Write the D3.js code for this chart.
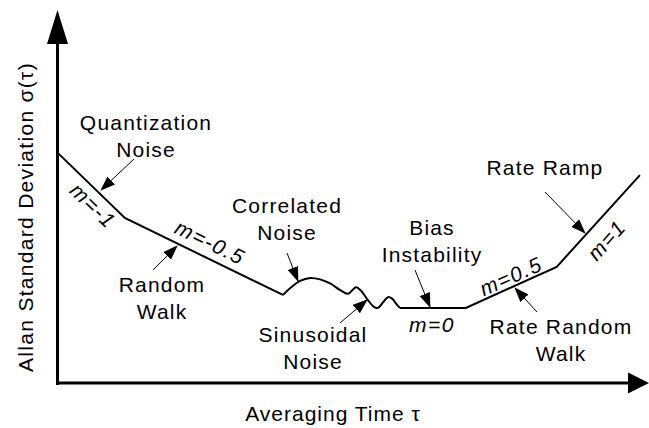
<!DOCTYPE html>
<html>
<head>
<meta charset="utf-8">
<script src="https://cdn.jsdelivr.net/npm/d3@7"></script>
<style>
  html, body { margin: 0; padding: 0; background: #fff; }
  svg text { font-family: Arial, "Liberation Sans", Helvetica, sans-serif; fill: #000; }
</style>
</head>
<body>
<svg id="chart" width="649" height="428"></svg>
<script>
// ---- data (schematic Allan deviation curve, arbitrary log units) ----
// straight part: quantization (m=-1) then random walk (m=-0.5)
const leftTau   = [0.0, 11.5, 38.3];
const leftSigma = [62.4, 44.6, 23.8];
// correlated hump + sinusoidal wiggles
const waveTau   = [38.3, 39.5, 41.2, 42.9, 44.6, 46.3, 48.0, 49.3, 50.0, 50.7, 51.5, 52.7, 53.7, 54.4, 55.3, 56.1, 56.8, 57.5, 58.1];
const waveSigma = [23.8, 25.6, 27.6, 28.4, 28.0, 26.9, 25.1, 24.1, 25.0, 25.9, 25.0, 22.4, 20.6, 20.3, 21.9, 23.2, 22.8, 21.4, 20.3];
// bias instability (m=0), rate random walk (m=0.5), rate ramp (m=1)
const rightTau   = [58.1, 69.3, 84.7, 98.8];
const rightSigma = [20.3, 20.3, 31.4, 56.2];

const xTitle = "Averaging Time \u03C4";
const yTitle = "Allan Standard Deviation \u03C3(\u03C4)";

// annotation labels: lines of text
const noiseLabels = [
  {lines: ["Quantization", "Noise"], x: 146, y: 130},
  {lines: ["Random", "Walk"], x: 162, y: 292},
  {lines: ["Correlated", "Noise"], x: 287, y: 213},
  {lines: ["Sinusoidal", "Noise"], x: 313, y: 342},
  {lines: ["Bias", "Instability"], x: 432, y: 235},
  {lines: ["Rate Random", "Walk"], x: 561, y: 334},
  {lines: ["Rate Ramp"], x: 545, y: 175}
];
const slopeLabels = [
  {text: "m=-1", x: 88, y: 211, rot: 44},
  {text: "m=-0.5", x: 207, y: 249, rot: 26},
  {text: "m=0", x: 432, y: 332, rot: 0},
  {text: "m=0.5", x: 514, y: 283, rot: -24},
  {text: "m=1", x: 612, y: 245, rot: -48}
];
const arrows = [
  {x1: 134, y1: 159, x2: 101, y2: 190},
  {x1: 153, y1: 270, x2: 177, y2: 246},
  {x1: 287, y1: 253, x2: 298, y2: 281},
  {x1: 340, y1: 323, x2: 367, y2: 300},
  {x1: 415, y1: 270, x2: 430, y2: 307},
  {x1: 537, y1: 312, x2: 515, y2: 288},
  {x1: 545, y1: 192, x2: 585, y2: 233}
];

// ---- drawing ----
const svg = d3.select("#chart");
const xs = d3.scaleLinear().domain([0, 100]).range([57, 647]);
const ys = d3.scaleLinear().domain([0, 100]).range([383, 13]);

const defs = svg.append("defs");
defs.append("marker")
  .attr("id", "ah")
  .attr("markerUnits", "userSpaceOnUse")
  .attr("markerWidth", 15).attr("markerHeight", 11)
  .attr("viewBox", "0 0 15 11")
  .attr("refX", 14).attr("refY", 5.5)
  .attr("orient", "auto")
  .append("path").attr("d", "M0,0 L15,5.5 L0,11 Z").attr("fill", "#000");

// axes
const x0 = xs(0), y0 = ys(0);
svg.append("line").attr("x1", x0 + 0.5).attr("y1", 42).attr("x2", x0 + 0.5).attr("y2", y0 + 2)
  .attr("stroke", "#000").attr("stroke-width", 3);
svg.append("path").attr("d", `M${x0 + 0.5},10 L${x0 + 11},44 L${x0 - 10},44 Z`).attr("fill", "#000");
svg.append("line").attr("x1", x0 - 1).attr("y1", y0).attr("x2", 630).attr("y2", y0)
  .attr("stroke", "#000").attr("stroke-width", 3);
svg.append("path").attr("d", `M649,${y0} L628,${y0 - 10.5} L628,${y0 + 10.5} Z`).attr("fill", "#000");

// axis titles
svg.append("text").attr("x", 333).attr("y", 421).attr("text-anchor", "middle")
  .attr("font-size", 21).attr("letter-spacing", 1).text(xTitle);
svg.append("text").attr("transform", "translate(33,217) rotate(-90)").attr("text-anchor", "middle")
  .attr("font-size", 21).attr("letter-spacing", 1.3).text(yTitle);

// curve
const lin = d3.line().x(d => xs(d[0])).y(d => ys(d[1]));
const wav = d3.line().x(d => xs(d[0])).y(d => ys(d[1])).curve(d3.curveCatmullRom.alpha(0.5));
const seg = (t, s) => t.map((v, i) => [v, s[i]]);
svg.append("path").attr("d", lin(seg(leftTau, leftSigma))).attr("fill", "none").attr("stroke", "#000").attr("stroke-width", 2);
svg.append("path").attr("d", wav(seg(waveTau, waveSigma))).attr("fill", "none").attr("stroke", "#000").attr("stroke-width", 2);
svg.append("path").attr("d", lin(seg(rightTau, rightSigma))).attr("fill", "none").attr("stroke", "#000").attr("stroke-width", 2);

// arrows
svg.selectAll("line.arr").data(arrows).enter().append("line").attr("class", "arr")
  .attr("x1", d => d.x1).attr("y1", d => d.y1).attr("x2", d => d.x2).attr("y2", d => d.y2)
  .attr("stroke", "#000").attr("stroke-width", 1).attr("marker-end", "url(#ah)");

// noise labels
noiseLabels.forEach(l => {
  const t = svg.append("text").attr("text-anchor", "middle").attr("font-size", 21).attr("letter-spacing", 1.2);
  l.lines.forEach((s, i) => t.append("tspan").attr("x", l.x).attr("y", l.y + i * 27).text(s));
});

// slope labels
svg.selectAll("text.slope").data(slopeLabels).enter().append("text").attr("class", "slope")
  .attr("transform", d => `translate(${d.x},${d.y}) rotate(${d.rot})`)
  .attr("text-anchor", "middle").attr("font-size", 21).attr("font-style", "italic").attr("letter-spacing", 1.5)
  .text(d => d.text);
</script>
</body>
</html>
